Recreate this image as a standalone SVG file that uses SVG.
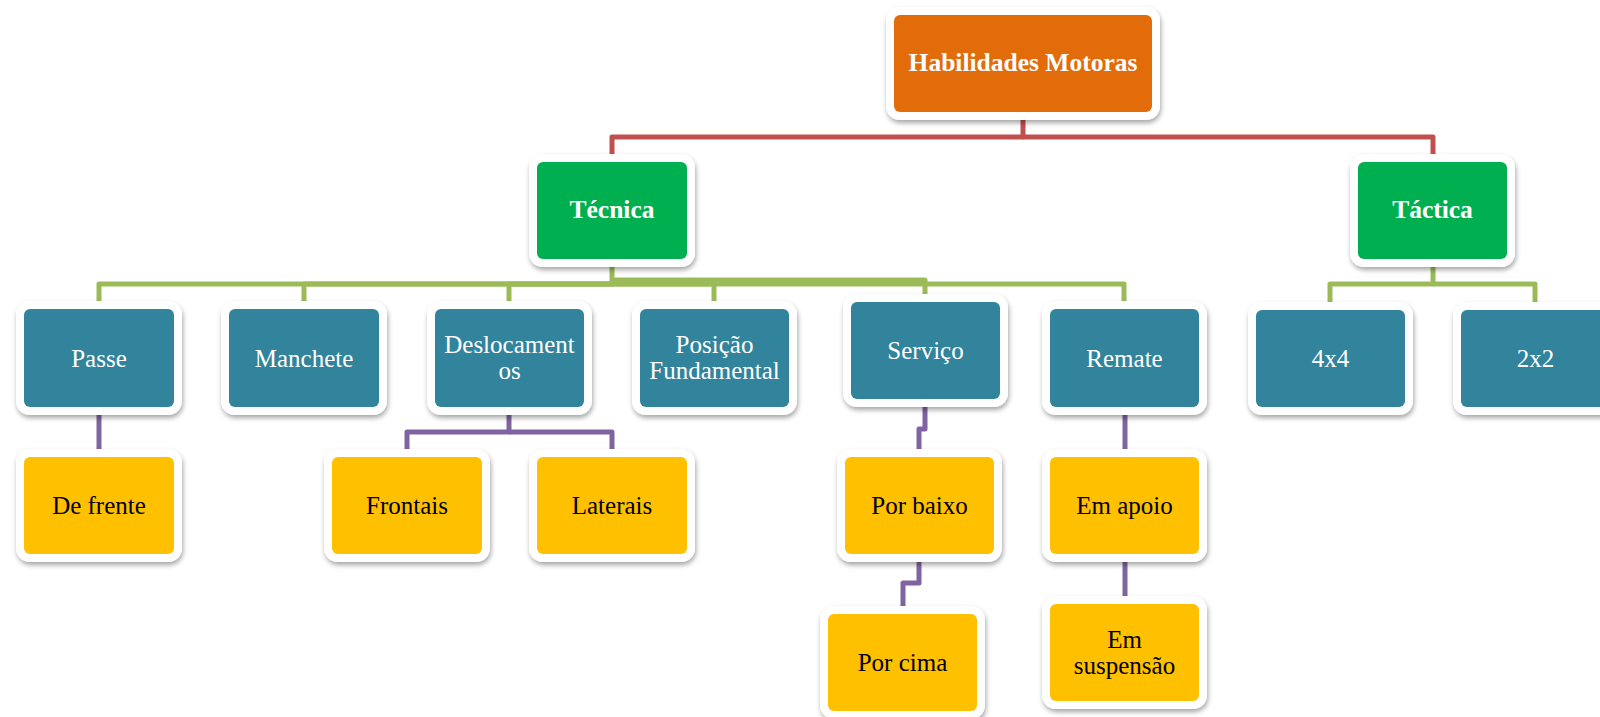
<svg xmlns="http://www.w3.org/2000/svg" width="1600" height="717" viewBox="0 0 1600 717">
<defs>
<filter id="sh" x="-20%" y="-20%" width="140%" height="150%">
<feDropShadow dx="1" dy="3" stdDeviation="2.5" flood-color="#000" flood-opacity="0.35"/>
</filter>
</defs>
<style>
.frame{fill:#fff;filter:url(#sh)}
.orange{fill:#E36C0A}
.green{fill:#00B050}
.teal{fill:#31849B}
.yellow{fill:#FFC000}
text{font-family:"Liberation Serif","Times New Roman",serif;font-size:25px;text-anchor:middle}
.w{fill:#fff}
.b{fill:#000}
.bold{font-weight:bold;font-size:25.5px}
.c{fill:none;stroke-width:5;stroke-linejoin:round}
.red{stroke:#C0504D}
.lg{stroke:#9BBB59}
.pu{stroke:#8064A2}
</style>
<rect width="1600" height="717" fill="#fff"/>
<g id="connectors">
<path class="c red" d="M1023,112 V137 H612 V162"/>
<path class="c red" d="M1023,137 H1433 V162"/>
<path class="c lg" d="M612,259 V284 H99 V309"/>
<path class="c lg" d="M612,284 H304 V309"/>
<path class="c lg" d="M612,284 H509 V309"/>
<path class="c lg" d="M612,284 H714 V309"/>
<path class="c lg" d="M612,280 H925 V302"/>
<path class="c lg" d="M612,284 H1124 V309"/>
<path class="c lg" d="M1433,259 V284 H1330 V310"/>
<path class="c lg" d="M1433,284 H1535 V310"/>
<path class="c pu" d="M99,407 V457"/>
<path class="c pu" d="M509,407 V432 H407 V457"/>
<path class="c pu" d="M509,432 H612 V457"/>
<path class="c pu" d="M925,399 V429 H919 V457"/>
<path class="c pu" d="M919,554 V583 H903 V614"/>
<path class="c pu" d="M1125,407 V457"/>
<path class="c pu" d="M1125,554 V604"/>
</g>
<g id="habilidades"><rect class="frame" x="886" y="7" width="274" height="113" rx="14"/><rect class="orange" x="894" y="15" width="258" height="97" rx="6"/><text class="w bold" x="1023" y="71">Habilidades Motoras</text></g>
<g id="tecnica"><rect class="frame" x="529" y="154" width="166" height="113" rx="14"/><rect class="green" x="537" y="162" width="150" height="97" rx="6"/><text class="w bold" x="612" y="218">Técnica</text></g>
<g id="tactica"><rect class="frame" x="1350" y="154" width="165" height="113" rx="14"/><rect class="green" x="1358" y="162" width="149" height="97" rx="6"/><text class="w bold" x="1432.5" y="218">Táctica</text></g>
<g id="passe"><rect class="frame" x="16" y="301" width="166" height="114" rx="14"/><rect class="teal" x="24" y="309" width="150" height="98" rx="6"/><text class="w" x="99" y="367">Passe</text></g>
<g id="manchete"><rect class="frame" x="221" y="301" width="166" height="114" rx="14"/><rect class="teal" x="229" y="309" width="150" height="98" rx="6"/><text class="w" x="304" y="367">Manchete</text></g>
<g id="deslocamentos"><rect class="frame" x="427" y="301" width="165" height="114" rx="14"/><rect class="teal" x="435" y="309" width="149" height="98" rx="6"/><text class="w" x="509.5" y="353">Deslocament</text><text class="w" x="509.5" y="379">os</text></g>
<g id="posicao"><rect class="frame" x="632" y="301" width="165" height="114" rx="14"/><rect class="teal" x="640" y="309" width="149" height="98" rx="6"/><text class="w" x="714.5" y="353">Posição</text><text class="w" x="714.5" y="379">Fundamental</text></g>
<g id="servico"><rect class="frame" x="843" y="294" width="165" height="113" rx="14"/><rect class="teal" x="851" y="302" width="149" height="97" rx="6"/><text class="w" x="925.5" y="359">Serviço</text></g>
<g id="remate"><rect class="frame" x="1042" y="301" width="165" height="114" rx="14"/><rect class="teal" x="1050" y="309" width="149" height="98" rx="6"/><text class="w" x="1124.5" y="367">Remate</text></g>
<g id="n4x4"><rect class="frame" x="1248" y="302" width="165" height="113" rx="14"/><rect class="teal" x="1256" y="310" width="149" height="97" rx="6"/><text class="w" x="1330.5" y="367">4x4</text></g>
<g id="n2x2"><rect class="frame" x="1453" y="302" width="165" height="113" rx="14"/><rect class="teal" x="1461" y="310" width="149" height="97" rx="6"/><text class="w" x="1535.5" y="367">2x2</text></g>
<g id="defrente"><rect class="frame" x="16" y="449" width="166" height="113" rx="14"/><rect class="yellow" x="24" y="457" width="150" height="97" rx="6"/><text class="b" x="99" y="514">De frente</text></g>
<g id="frontais"><rect class="frame" x="324" y="449" width="166" height="113" rx="14"/><rect class="yellow" x="332" y="457" width="150" height="97" rx="6"/><text class="b" x="407" y="514">Frontais</text></g>
<g id="laterais"><rect class="frame" x="529" y="449" width="166" height="113" rx="14"/><rect class="yellow" x="537" y="457" width="150" height="97" rx="6"/><text class="b" x="612" y="514">Laterais</text></g>
<g id="porbaixo"><rect class="frame" x="837" y="449" width="165" height="113" rx="14"/><rect class="yellow" x="845" y="457" width="149" height="97" rx="6"/><text class="b" x="919.5" y="514">Por baixo</text></g>
<g id="emapoio"><rect class="frame" x="1042" y="449" width="165" height="113" rx="14"/><rect class="yellow" x="1050" y="457" width="149" height="97" rx="6"/><text class="b" x="1124.5" y="514">Em apoio</text></g>
<g id="porcima"><rect class="frame" x="820" y="606" width="165" height="113" rx="14"/><rect class="yellow" x="828" y="614" width="149" height="97" rx="6"/><text class="b" x="902.5" y="671">Por cima</text></g>
<g id="emsuspensao"><rect class="frame" x="1042" y="596" width="165" height="113" rx="14"/><rect class="yellow" x="1050" y="604" width="149" height="97" rx="6"/><text class="b" x="1124.5" y="648">Em</text><text class="b" x="1124.5" y="674">suspensão</text></g>
</svg>
